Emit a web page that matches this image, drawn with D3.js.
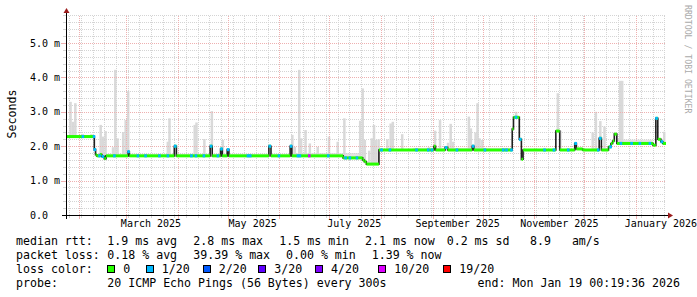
<!DOCTYPE html>
<html><head><meta charset="utf-8">
<script src="https://cdn.jsdelivr.net/npm/d3@7"></script>
<style>
html,body{margin:0;padding:0;background:#fff;}
svg{display:block;}
text{font-family:"DejaVu Sans Mono",monospace;}
</style></head><body>
<svg id="chart" width="697" height="297"></svg>
<script>
// ---------------- data ----------------
const startTime = "2025-01-24T00:19:36";
const endTime   = "2026-01-19T00:19:36";
const yMaxValue = 5.814;                       // ms, top of value axis
const yTicks      = [0, 1, 2, 3, 4, 5];
const yTickLabels = ["0.0", "1.0 m", "2.0 m", "3.0 m", "4.0 m", "5.0 m"];
const monthLabelStarts = ["2025-03-01", "2025-05-01", "2025-07-01", "2025-09-01", "2025-11-01", "2026-01-01"];
const monthLabels = ["March 2025", "May 2025", "July 2025", "September 2025", "November 2025", "January 2026"];

// median rtt (ms), step changes
const medianDates = [
 "2025-01-24T00:19","2025-02-10T00:00","2025-02-10T18:00","2025-02-11T12:00","2025-02-13T12:00",
 "2025-02-14T12:00","2025-02-16T00:00","2025-02-17T00:00","2025-03-02T06:00","2025-03-03T00:00",
 "2025-03-30T00:00","2025-03-31T06:00","2025-04-20T12:00","2025-04-21T18:00","2025-04-26T18:00",
 "2025-04-27T18:00","2025-04-30T18:00","2025-05-01T18:00","2025-05-25T18:00","2025-05-27T00:00",
 "2025-06-07T12:00","2025-06-08T12:00","2025-07-09T06:00","2025-07-21T00:00","2025-07-22T00:00",
 "2025-07-23T06:00","2025-07-30T18:00","2025-09-01T18:00","2025-09-02T18:00","2025-09-08T12:00",
 "2025-09-10T00:00","2025-09-24T18:00","2025-09-25T18:00","2025-10-18T18:00","2025-10-19T12:00",
 "2025-10-23T00:00","2025-10-24T06:00","2025-10-25T06:00","2025-11-13T22:00","2025-11-16T06:00",
 "2025-11-25T06:00","2025-11-26T06:00","2025-11-30T00:00","2025-12-09T22:00","2025-12-11T06:00",
 "2025-12-15T12:00","2025-12-17T00:00","2025-12-18T00:00","2025-12-19T00:00","2025-12-20T12:00",
 "2026-01-11T06:00","2026-01-12T22:00","2026-01-14T02:00","2026-01-15T22:00","2026-01-17T02:00"];
const medianValues = [
 2.28,1.90,1.75,1.72,1.76, 1.70,1.64,1.72,1.84,1.72,
 2.00,1.72,2.00,1.72,1.92, 1.72,1.90,1.72,2.00,1.72,
 2.00,1.72,1.66,1.60,1.55, 1.48,1.89,2.00,1.89,1.96,
 1.89,2.00,1.89,2.50,2.84, 2.20,1.62,1.89,2.44,1.89,
 2.08,1.92,1.89,2.23,1.89, 1.98,2.08,2.15,2.35,2.08,
 2.03,2.81,2.20,2.13,2.08];

// smoke (ping spread) maxima, ms
const smokeDates = [
 "2025-01-26T17:00","2025-01-28T05:00","2025-01-29T14:00","2025-02-03T02:00","2025-02-08T05:00",
 "2025-02-13T19:00","2025-02-15T05:00","2025-02-16T17:00","2025-02-21T05:00","2025-02-22T14:00",
 "2025-02-23T22:00","2025-02-27T07:00","2025-02-28T19:00","2025-03-02T07:00","2025-03-26T02:00",
 "2025-03-27T02:00","2025-04-11T05:00","2025-04-12T07:00","2025-04-17T00:00","2025-04-21T12:00",
 "2025-04-28T02:00","2025-06-08T19:00","2025-06-10T07:00","2025-06-12T22:00","2025-06-14T02:00",
 "2025-06-16T17:00","2025-06-19T07:00","2025-06-24T00:00","2025-06-30T19:00","2025-07-06T00:00",
 "2025-07-10T00:00","2025-07-19T12:00","2025-07-21T00:00","2025-07-22T07:00","2025-07-24T22:00",
 "2025-07-26T10:00","2025-07-27T19:00","2025-07-29T02:00","2025-07-30T14:00","2025-08-04T19:00",
 "2025-08-06T19:00","2025-08-08T02:00","2025-08-13T17:00","2025-08-29T19:00","2025-09-02T10:00",
 "2025-09-05T10:00","2025-09-10T05:00","2025-09-11T19:00","2025-09-13T07:00","2025-09-22T17:00",
 "2025-09-23T22:00","2025-09-26T17:00","2025-09-27T22:00","2025-09-29T02:00","2025-09-30T19:00",
 "2025-10-21T02:00","2025-11-15T02:00","2025-11-16T14:00","2025-12-06T00:00","2025-12-07T22:00",
 "2025-12-10T14:00","2025-12-13T02:00","2025-12-19T07:00","2025-12-22T12:00","2025-12-23T17:00",
 "2026-01-15T22:00","2026-01-17T22:00"];
const smokeTops = [
 3.29,2.71,3.25,2.35,2.35, 2.62,2.28,2.44,1.97,4.22,
 2.23,2.41,2.76,3.60,2.13, 2.81,2.62,2.69,2.21,3.02,
 2.18,2.33,1.98,4.22,2.23, 2.47,2.08,1.98,2.28,2.13,
 2.81,2.74,3.68,2.18,1.87, 2.23,2.62,2.18,2.20,2.20,
 2.66,2.71,2.35,1.97,2.45, 2.76,2.10,2.65,2.13,2.86,
 2.52,2.40,3.25,2.23,2.18, 3.00,3.54,2.45,2.40,3.00,
 2.73,2.57,2.40,3.90,3.90, 2.23,2.42];

// low continuous smoke bands above the median
const bandStarts = ["2025-02-12","2025-06-09","2025-08-20","2025-12-20T12:00"];
const bandEnds   = ["2025-06-07","2025-07-20","2025-10-18","2026-01-11T00:00"];
const bandTops   = [1.78, 1.80, 1.95, 2.19];

// samples with packet loss (count of 20)
const lossDates = [
 "2025-02-03T02:00","2025-02-09T18:00","2025-02-10T06:00","2025-02-13T02:00","2025-02-15T02:00",
 "2025-02-22T00:00","2025-03-02T12:00","2025-03-08T02:00","2025-03-12T17:00","2025-03-21T00:00",
 "2025-03-26T02:00","2025-03-30T12:00","2025-04-09T05:00","2025-04-11T22:00","2025-04-16T17:00",
 "2025-04-21T00:00","2025-04-25T02:00","2025-04-27T06:00","2025-05-01T06:00","2025-05-13T02:00",
 "2025-05-14T12:00","2025-05-26T06:00","2025-05-31T17:00","2025-06-08T00:00","2025-06-12T02:00",
 "2025-06-13T07:00","2025-06-18T22:00","2025-06-30T07:00","2025-07-10T17:00","2025-07-13T07:00",
 "2025-07-17T12:00","2025-08-01T07:00","2025-08-06T07:00","2025-08-22T07:00","2025-08-29T07:00",
 "2025-08-31T12:00","2025-09-09T00:00","2025-09-15T12:00","2025-09-25T06:00","2025-10-02T07:00",
 "2025-10-13T06:00","2025-10-15T06:00","2025-10-18T06:00","2025-10-21T00:00","2025-10-23T12:00",
 "2025-11-07T02:00","2025-11-12T17:00","2025-11-21T07:00","2025-11-25T18:00","2025-12-09T07:00",
 "2025-12-10T12:00","2025-12-16T18:00","2025-12-22T22:00","2025-12-29T07:00","2026-01-03T07:00",
 "2026-01-09T07:00","2026-01-13T06:00","2026-01-16T12:00"];
const lossCounts = [
 1,1,1,1,1, 1,1,1,1,1, 1,1,1,1,1, 1,1,1,1,1, 1,1,1,1,1, 1,10,1,1,1,
 1,1,1,1,1, 1,1,1,1,1, 1,1,1,1,1, 1,1,1,1,1, 1,1,1,1,1, 1,1,1];

const lossLevels = [0, 1, 2, 3, 4, 10, 19];
const lossLegend = ["0", "1/20", "2/20", "3/20", "4/20", "10/20", "19/20"];
const lossColors = ["#26ff00", "#00b8ff", "#0059ff", "#5e00ff", "#7e00ff", "#dd00ff", "#ff0000"];

const rttStatNames  = ["avg", "max", "min", "now", "sd"];
const rttStatValues = [1.9, 2.8, 1.5, 2.1, 0.2];
const ampsValue = 8.9;
const lossStatNames  = ["avg", "max", "min", "now"];
const lossStatValues = [0.18, 39.39, 0.00, 1.39];
const probeText = "20 ICMP Echo Pings (56 Bytes) every 300s";
const endText = "end: Mon Jan 19 00:19:36 2026";

// ---------------- drawing ----------------
const svg = d3.select("#chart");
const parseT = s => new Date(s.length === 10 ? s + "T00:00:00Z" : (s.length === 16 ? s + ":00Z" : s + "Z"));
const t0 = parseT(startTime), t1 = parseT(endTime);
const X0 = 66, X1 = 666, Y0 = 215, Y1 = 15;
const x = d3.scaleUtc().domain([t0, t1]).range([X0, X1]);
const y = d3.scaleLinear().domain([0, yMaxValue]).range([Y0, Y1]);

const minorCol = "#d4d4d4", majorCol = "#eeb0b0";
const defs = svg.append("defs");
[["hMinor", minorCol, 2, 1], ["hMajor", majorCol, 2, 1], ["vMinor", minorCol, 1, 2], ["vMajor", majorCol, 1, 2]]
  .forEach(([id, col, w, h]) => {
    const p = defs.append("pattern").attr("id", id).attr("patternUnits", "userSpaceOnUse")
      .attr("x", 0).attr("y", 0).attr("width", w).attr("height", h);
    p.append("rect").attr("x", 0).attr("y", 0).attr("width", 1).attr("height", 1).attr("fill", col);
  });

const med = medianDates.map((d, i) => ({ t: parseT(d), v: medianValues[i] }));
const medAt = t => { let v = med[0].v; for (const m of med) { if (m.t <= t) v = m.v; else break; } return v; };

const gSmoke = svg.append("g");
bandStarts.forEach((s, i) => {
  const a = parseT(s), b = parseT(bandEnds[i]);
  med.forEach((m, j) => {
    const segS = m.t, segE = j + 1 < med.length ? med[j + 1].t : t1;
    const lo = segS > a ? segS : a, hi = segE < b ? segE : b;
    if (lo < hi) gSmoke.append("rect").attr("x", x(lo)).attr("width", x(hi) - x(lo))
      .attr("y", y(bandTops[i])).attr("height", Math.max(0, y(m.v) - y(bandTops[i])))
      .attr("fill", "#e2e2e2");
  });
});
smokeDates.forEach((s, i) => {
  const t = parseT(s), base = medAt(t);
  gSmoke.append("rect").attr("x", x(t) - 1.2).attr("width", 2.5)
    .attr("y", y(smokeTops[i])).attr("height", Math.max(0, y(base) - y(smokeTops[i])))
    .attr("fill", "#d9d9d9");
});

// grid (dotted via 1px patterns)
const gGrid = svg.append("g").attr("shape-rendering", "crispEdges");
const minorY = y.ticks(30).filter(v => Math.abs(v - Math.round(v)) > 1e-6);
const hLine = (v, pat, col, tick) => {
  const yy = Math.round(y(v));
  gGrid.append("rect").attr("x", X0).attr("y", yy).attr("width", X1 - X0).attr("height", 1).attr("fill", `url(#${pat})`);
  gGrid.append("rect").attr("x", X0 - tick).attr("y", yy).attr("width", tick).attr("height", 1).attr("fill", col);
};
const vLine = (t, pat, col, tick) => {
  const xx = Math.round(x(t));
  gGrid.append("rect").attr("x", xx).attr("y", Y1).attr("width", 1).attr("height", Y0 - Y1).attr("fill", `url(#${pat})`);
  gGrid.append("rect").attr("x", xx).attr("y", Y0 + 1).attr("width", 1).attr("height", tick).attr("fill", col);
};
minorY.forEach(v => hLine(v, "hMinor", minorCol, 3));
d3.utcSunday.range(t0, t1).forEach(t => vLine(t, "vMinor", minorCol, 2));
yTicks.filter(v => v > 0).forEach(v => hLine(v, "hMajor", majorCol, 5));
d3.utcMonth.range(t0, t1).forEach(t => vLine(t, "vMajor", majorCol, 3));

// median: black connecting line + loss-coloured bars
const medLine = d3.line().x(d => x(d.t)).y(d => y(d.v)).curve(d3.curveStepAfter);
const medPts = med.concat([{ t: t1, v: med[med.length - 1].v }]);
svg.append("path").attr("d", medLine(medPts)).attr("fill", "none")
  .attr("stroke", "#202020").attr("stroke-width", 1.6);
const gMed = svg.append("g");
med.forEach((m, j) => {
  const e = j + 1 < med.length ? med[j + 1].t : t1;
  gMed.append("rect").attr("x", x(m.t)).attr("width", x(e) - x(m.t))
    .attr("y", y(m.v) - 1.5).attr("height", 3).attr("fill", lossColors[0]);
});
const colorFor = c => { let k = 0; lossLevels.forEach((l, i) => { if (c >= l) k = i; }); return lossColors[k]; };
lossDates.forEach((s, i) => {
  const t = parseT(s), v = medAt(t);
  gMed.append("rect").attr("x", x(t) - 1.2).attr("width", 2.6)
    .attr("y", y(v) - 1.5).attr("height", 3).attr("fill", colorFor(lossCounts[i]));
});

// axes
const gAx = svg.append("g").attr("shape-rendering", "crispEdges");
gAx.append("line").attr("x1", X0 - 4).attr("x2", X1 + 3).attr("y1", Y0 + 0.5).attr("y2", Y0 + 0.5).attr("stroke", "#000");
gAx.append("line").attr("x1", X0 + 0.5).attr("x2", X0 + 0.5).attr("y1", Y0 + 4).attr("y2", Y1 - 2).attr("stroke", "#000");
svg.append("path").attr("d", `M${X1 + 2},${Y0 - 2.5} L${X1 + 7},${Y0 + 0.5} L${X1 + 2},${Y0 + 3.5} Z`).attr("fill", "#9b1c1c");
svg.append("path").attr("d", `M${X0 - 2.5},${Y1 - 2} L${X0 + 0.5},${Y1 - 7} L${X0 + 3.5},${Y1 - 2} Z`).attr("fill", "#9b1c1c");

// tick labels
yTicks.forEach((v, i) => {
  svg.append("text").attr("x", 30).attr("y", y(v) + 3.6).attr("font-size", "10px").attr("fill", "#000")
    .attr("xml:space", "preserve").text(yTickLabels[i]);
});
monthLabelStarts.forEach((s, i) => {
  const mid = d3.utcDay.offset(parseT(s), 15);
  svg.append("text").attr("x", x(mid)).attr("y", 227).attr("text-anchor", "middle")
    .attr("font-size", "10px").attr("fill", "#000").text(monthLabels[i]);
});
svg.append("text").attr("transform", "translate(15.5,114) rotate(-90)").attr("text-anchor", "middle")
  .attr("font-size", "11.6px").attr("fill", "#000").text("Seconds");
svg.append("text").attr("transform", "translate(685,5) rotate(90)").attr("text-anchor", "start")
  .attr("font-size", "8.2px").attr("fill", "#aaaaaa").text("RRDTOOL / TOBI OETIKER");

// legend
const LF = "11.6px";
const leg = (tx, xx, yy) => svg.append("text").attr("x", xx).attr("y", yy).attr("font-size", LF)
  .attr("fill", "#000").attr("xml:space", "preserve").style("white-space", "pre").text(tx);
const rows = [244.5, 258.6, 272.7, 286.8];
leg("median rtt:", 16, rows[0]);
const rttX = [107.3, 193.3, 279.3, 365, 446.7];
rttStatNames.forEach((n, i) => leg(`${rttStatValues[i].toFixed(1)} ms ${n}`, rttX[i], rows[0]));
leg(`${ampsValue.toFixed(1)}   am/s`, 530, rows[0]);
leg("packet loss:", 16, rows[1]);
const lossX = [107.3, 193.3, 286, 371.7];
lossStatNames.forEach((n, i) => leg(`${lossStatValues[i].toFixed(2)} % ${n}`, lossX[i], rows[1]));
leg("loss color:", 16, rows[2]);
const swX = [107.3, 145.7, 202.7, 258.3, 315, 378.3, 443.3];
lossLegend.forEach((l, i) => {
  svg.append("rect").attr("x", Math.round(swX[i]) + 0.5).attr("y", 265.5).attr("width", 7).attr("height", 7)
    .attr("fill", lossColors[i]).attr("stroke", "#000").attr("stroke-width", 1);
  leg(l, swX[i] + 16, rows[2]);
});
leg("probe:", 16, rows[3]);
leg(probeText, 107.3, rows[3]);
leg(endText, 680, rows[3]).attr("text-anchor", "end");
</script>
</body></html>
